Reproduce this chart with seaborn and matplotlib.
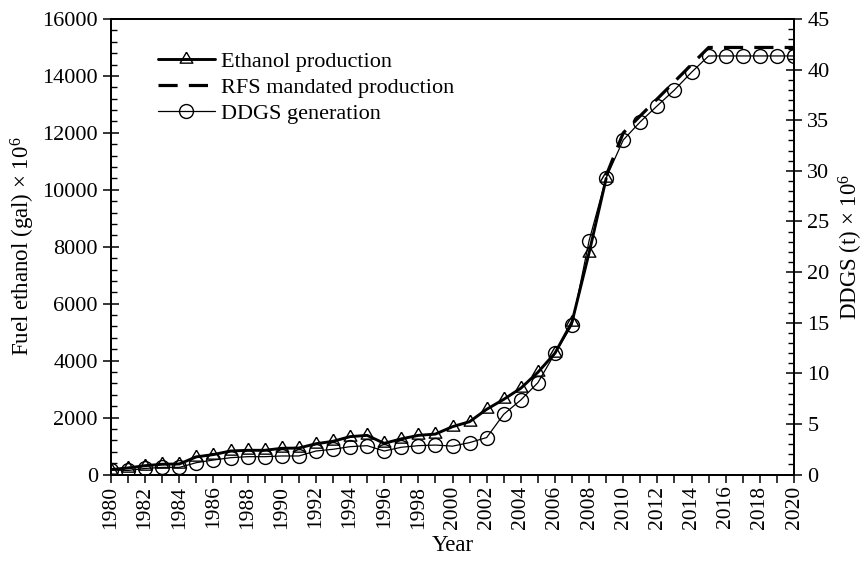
import matplotlib
matplotlib.use("Agg")
import matplotlib.pyplot as plt
import seaborn as sns
import pandas as pd
from matplotlib.ticker import MultipleLocator
from matplotlib.lines import Line2D

# Fuel ethanol production, million gallons
eth_years = list(range(1980, 2010))
ethanol = [175, 230, 310, 360, 370, 620, 700, 825, 850, 850,
           920, 930, 1080, 1165, 1330, 1375, 1095, 1250, 1375, 1420,
           1680, 1855, 2290, 2640, 3030, 3590, 4260, 5360, 7790, 10400]

# Renewable Fuel Standard mandated production, million gallons
rfs_years = list(range(2009, 2021))
rfs = [10500, 12000, 12600, 13200, 13800, 14400,
       15000, 15000, 15000, 15000, 15000, 15000]

# Distillers dried grains with solubles, million tonnes
ddgs_years = list(range(1980, 2021))
ddgs = [0.45, 0.40, 0.60, 0.70, 0.70, 1.17, 1.43, 1.66, 1.76, 1.76,
        1.83, 1.83, 2.32, 2.49, 2.75, 2.85, 2.32, 2.69, 2.85, 2.91,
        2.80, 3.15, 3.65, 5.95, 7.36, 9.07, 11.97, 14.77, 23.10, 29.30,
        33.05, 34.85, 36.44, 37.99, 39.74, 41.35, 41.35, 41.35, 41.35, 41.35, 41.35]

labels = ["Ethanol production", "RFS mandated production", "DDGS generation"]

sns.set_theme(style="ticks")
plt.rcParams.update({
    "font.family": ["Liberation Serif", "DejaVu Serif"],
    "font.size": 16,
    "axes.labelsize": 16.5,
    "xtick.labelsize": 15.5,
    "ytick.labelsize": 16,
    "legend.fontsize": 16,
    "mathtext.fontset": "custom",
    "mathtext.rm": "Liberation Serif",
    "mathtext.it": "Liberation Serif:italic",
    "axes.edgecolor": "black",
    "axes.linewidth": 1.3,
    "xtick.color": "black",
    "ytick.color": "black",
    "text.color": "black",
    "axes.labelcolor": "black",
})

# open triangle whose centroid sits on the data point
tri = [(0, 1.0), (-0.87, -0.5), (0.87, -0.5), (0, 1.0)]

df_eth = pd.DataFrame({"year": eth_years, "value": ethanol})
df_rfs = pd.DataFrame({"year": rfs_years, "value": rfs})
df_ddgs = pd.DataFrame({"year": ddgs_years, "value": ddgs})

fig = plt.figure(figsize=(8.67, 5.62), dpi=100)
ax = fig.add_axes([111 / 867, 1 - 474.5 / 562, 683 / 867, 455.5 / 562])
ax2 = ax.twinx()

sns.lineplot(data=df_eth, x="year", y="value", ax=ax, color="black", lw=2.1,
             marker=tri, markersize=10.5, markerfacecolor="none",
             markeredgecolor="black", markeredgewidth=1.0)
sns.lineplot(data=df_rfs, x="year", y="value", ax=ax, color="black", lw=2.3,
             dashes=False)
ax.lines[-1].set_dashes((6, 3.5))
sns.lineplot(data=df_ddgs, x="year", y="value", ax=ax2, color="black", lw=0.9,
             marker="o", markersize=10, markerfacecolor="none",
             markeredgecolor="black", markeredgewidth=1.0)

ax.set_xlim(1980, 2020)
ax.set_ylim(0, 16000)
ax2.set_ylim(0, 45)

ax.xaxis.set_major_locator(MultipleLocator(2))
ax.xaxis.set_minor_locator(MultipleLocator(1))
ax.yaxis.set_major_locator(MultipleLocator(2000))
ax.yaxis.set_minor_locator(MultipleLocator(400))
ax2.yaxis.set_major_locator(MultipleLocator(5))
ax2.yaxis.set_minor_locator(MultipleLocator(1))

ax.tick_params(axis="x", which="both", direction="out", length=6, width=1.1,
               labelrotation=90, pad=2)
ax.tick_params(axis="y", which="major", direction="inout", length=11, width=1.1, pad=4)
ax.tick_params(axis="y", which="minor", direction="in", length=4, width=1.0)
ax2.tick_params(axis="y", which="major", direction="inout", length=11, width=1.1, pad=4)
ax2.tick_params(axis="y", which="minor", direction="in", length=4, width=1.0)

ax.set_xlabel("Year", labelpad=4)
ax.set_ylabel("Fuel ethanol (gal) × 10$^{6}$", labelpad=4)
ax2.set_ylabel("DDGS (t) × 10$^{6}$", labelpad=5)

handles = [
    Line2D([], [], color="black", lw=2.1, marker=tri, markersize=10.5,
           markerfacecolor="none", markeredgecolor="black", markeredgewidth=1.0),
    Line2D([], [], color="black", lw=2.3, dashes=(6, 3.5)),
    Line2D([], [], color="black", lw=0.9, marker="o", markersize=10,
           markerfacecolor="none", markeredgecolor="black", markeredgewidth=1.0),
]
ax2.legend(handles, labels, loc="upper left", bbox_to_anchor=(0.069, 0.929),
           frameon=False, borderpad=0, borderaxespad=0, handlelength=2.55,
           handletextpad=0.3, labelspacing=0.25, fontsize=16)

fig.savefig("out.png", dpi=100)
